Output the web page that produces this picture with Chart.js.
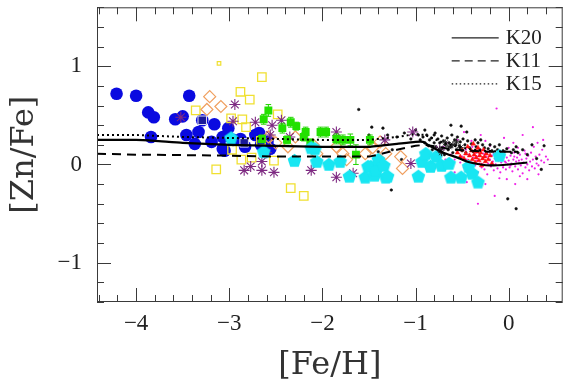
<!DOCTYPE html>
<html><head><meta charset="utf-8">
<script src="https://cdn.jsdelivr.net/npm/chart.js@4.4.1/dist/chart.umd.min.js"></script>
<style>html,body{margin:0;padding:0;background:#fff;}</style>
</head><body>
<canvas id="c" width="570" height="383"></canvas>
<script>
// ---- data ([Fe/H], [Zn/Fe]) ----
const blueCircles = [[-4.21,0.72],[-4.00,0.70],[-3.87,0.53],[-3.81,0.48],[-3.84,0.28],[-3.58,0.46],[-3.50,0.49],[-3.43,0.70],[-3.46,0.30],[-3.37,0.21],[-3.33,0.33],[-3.29,0.45],[-3.19,0.23],[-3.16,0.41],[-3.07,0.28],[-3.05,0.14],[-3.01,0.37],[-2.96,0.25],[-2.88,0.26],[-2.83,0.18],[-2.72,0.30],[-2.68,0.32],[-2.59,0.23],[-2.56,0.16],[-3.07,0.16],[-2.66,0.20]];
const navySquares = [[-3.29,0.45],[-2.84,0.22]];
const cyanPentagons = [[-2.98,0.27],[-2.63,0.13],[-2.30,0.04],[-2.12,0.17],[-2.08,0.16],[-2.06,0.03],[-1.93,0.00],[-1.81,0.03],[-1.71,-0.12],[-1.54,-0.13],[-1.51,-0.02],[-1.48,-0.02],[-1.44,-0.11],[-1.42,-0.06],[-1.40,0.05],[-1.34,-0.01],[-1.32,-0.13],[-1.30,-0.12],[-0.97,-0.12],[-0.93,0.03],[-0.89,0.11],[-0.84,-0.02],[-0.78,0.08],[-0.72,-0.01],[-0.64,0.01],[-0.62,-0.13],[-0.51,-0.13],[-0.43,-0.02],[-0.39,-0.09],[-0.33,-0.18],[-0.10,0.09]];
const greenSquares = [[-2.58,0.55],[-2.63,0.46],[-2.43,0.37],[-2.34,0.43],[-2.28,0.39],[-2.18,0.33],[-2.20,0.28],[-2.02,0.33],[-1.96,0.33],[-1.85,0.26],[-1.78,0.25],[-1.70,0.25],[-1.64,0.10],[-1.49,0.25],[-2.38,0.25],[-2.65,0.26],[-2.13,0.22]];
const greenErrors = [0.06,0.05,0.05,0.05,0.04,0.05,0.04,0.05,0.05,0.05,0.05,0.06,0.10,0.05,0.04,0.04,0.04];
const yellowSquares = [[-2.65,0.89],[-2.88,0.74],[-2.78,0.66],[-3.36,0.55],[-2.98,0.47],[-2.86,0.46],[-2.82,0.38],[-2.48,0.51],[-3.14,-0.05],[-2.97,0.15],[-2.87,0.05],[-2.76,0.07],[-2.52,0.04],[-2.34,-0.24],[-2.20,-0.32],[-2.66,0.24]];
const yellowSmall = [[-3.11,1.03]];
const orangeDiamonds = [[-3.21,0.69],[-3.24,0.56],[-3.09,0.59],[-2.58,0.28],[-2.50,0.22],[-2.37,0.18],[-2.29,0.28],[-2.10,0.20],[-2.06,0.11],[-1.85,0.18],[-1.78,0.11],[-1.74,0.05],[-1.54,0.11],[-1.46,0.17],[-1.38,0.23],[-1.32,0.11],[-1.16,0.08],[-1.14,-0.04]];
const purpleStars = [[-3.52,0.48],[-2.94,0.61],[-2.96,0.44],[-2.72,0.43],[-2.54,0.40],[-2.44,0.45],[-2.56,0.30],[-2.84,-0.06],[-2.77,-0.02],[-2.65,0.03],[-2.65,-0.06],[-2.52,-0.08],[-2.12,-0.06],[-1.85,0.33],[-1.85,-0.13],[-1.67,-0.09],[-1.33,0.25],[-1.03,0.33],[-1.05,0.01],[-0.74,0.15],[-2.35,0.28],[-2.60,0.12]];
const magentaDots = [[-0.62,0.10],[-0.58,0.05],[-0.55,0.12],[-0.52,0.02],[-0.50,0.08],[-0.48,-0.03],[-0.46,0.15],[-0.45,0.05],[-0.43,0.10],[-0.42,-0.06],[-0.40,0.02],[-0.39,0.18],[-0.38,0.07],[-0.36,-0.01],[-0.35,0.12],[-0.34,0.04],[-0.33,-0.08],[-0.32,0.09],[-0.31,0.01],[-0.30,0.15],[-0.29,-0.03],[-0.28,0.06],[-0.27,0.11],[-0.26,-0.05],[-0.25,0.03],[-0.24,0.08],[-0.23,-0.10],[-0.22,0.01],[-0.21,0.13],[-0.20,0.05],[-0.19,-0.02],[-0.18,0.09],[-0.17,0.03],[-0.16,-0.06],[-0.15,0.06],[-0.14,0.00],[-0.13,0.11],[-0.12,-0.04],[-0.11,0.04],[-0.10,0.08],[-0.09,-0.08],[-0.08,0.02],[-0.07,0.06],[-0.06,-0.01],[-0.05,0.10],[-0.04,0.03],[-0.03,-0.05],[-0.02,0.07],[-0.01,0.00],[0.00,0.04],[0.01,-0.03],[0.02,0.09],[0.03,0.01],[0.04,-0.07],[0.05,0.05],[0.06,0.12],[0.07,-0.02],[0.08,0.03],[0.09,0.07],[0.10,-0.05],[0.11,0.01],[0.12,0.10],[0.13,-0.01],[0.14,0.05],[0.15,-0.09],[0.16,0.02],[0.17,0.14],[0.18,-0.03],[0.19,0.06],[0.20,0.00],[0.21,0.09],[0.22,-0.06],[0.23,0.03],[0.24,0.12],[0.25,-0.02],[0.26,0.05],[0.27,0.18],[0.28,-0.04],[0.29,0.08],[0.30,0.01],[0.31,0.22],[0.32,-0.01],[0.33,0.10],[0.35,0.04],[0.36,0.15],[0.38,0.02],[0.40,0.08],[0.42,0.05],[-0.13,0.57],[-0.48,0.33],[-0.30,0.30],[-0.05,0.27],[0.15,0.30],[0.26,0.38],[0.05,0.22],[-0.25,0.24],[-0.55,0.25],[-0.70,0.18],[-0.75,0.12],[-0.68,0.05],[-0.33,-0.40],[-0.15,-0.32],[0.07,-0.20],[-0.02,-0.15],[-0.45,-0.18],[-0.25,-0.20],[0.20,-0.15],[0.32,-0.10],[-0.38,-0.12],[-0.10,-0.14],[0.12,-0.12],[-0.58,-0.08],[-0.65,0.22],[0.00,0.17],[-0.20,0.19],[0.10,0.17],[-0.40,0.24],[0.37,0.25],[-0.28,0.00],[-0.22,0.06],[-0.16,0.11],[-0.12,0.06],[-0.08,0.12],[-0.03,0.02],[0.02,-0.01],[0.06,0.08],[-0.18,0.00],[-0.34,0.08],[-0.26,0.14],[-0.06,-0.03],[0.11,0.04],[0.18,0.11],[-0.44,0.00],[-0.36,0.15]];
const blackDots = [[-1.61,0.56],[-1.47,0.38],[-1.35,0.37],[-1.26,-0.26],[-1.50,0.30],[-1.30,0.30],[-1.20,0.28],[-1.12,0.32],[-1.05,0.26],[-1.00,0.35],[-0.97,0.30],[-0.62,0.40],[-0.51,0.39],[-0.01,-0.35],[0.08,-0.45],[0.38,0.19],[0.25,0.20],[0.30,0.06],[0.15,0.15],[-1.25,0.15],[-1.15,0.05],[-1.40,0.13],[-0.90,0.35],[-0.80,0.30],[-0.45,0.33],[-0.30,0.25],[0.05,0.15],[0.10,0.12],[0.20,0.10],[0.35,-0.05],[-0.20,0.20],[-0.95,0.25],[-0.92,0.28],[-0.90,0.22],[-0.88,0.30],[-0.86,0.19],[-0.85,0.25],[-0.83,0.27],[-0.82,0.15],[-0.80,0.22],[-0.79,0.32],[-0.78,0.18],[-0.76,0.26],[-0.75,0.12],[-0.74,0.22],[-0.72,0.29],[-0.71,0.17],[-0.70,0.24],[-0.69,0.10],[-0.68,0.20],[-0.66,0.27],[-0.65,0.15],[-0.64,0.22],[-0.62,0.18],[-0.61,0.30],[-0.60,0.12],[-0.58,0.25],[-0.57,0.20],[-0.56,0.15],[-0.55,0.28],[-0.53,0.19],[-0.52,0.23],[-0.50,0.14],[-0.49,0.26],[-0.47,0.20],[-0.46,0.12],[-0.44,0.24],[-0.42,0.17],[-0.40,0.21],[-0.38,0.13],[-0.36,0.25],[-0.35,0.18],[-0.33,0.22],[-0.31,0.15],[-0.28,0.20],[-0.26,0.17],[-0.24,0.12],[-0.22,0.16],[-0.18,0.14],[-0.15,0.18],[-0.12,0.15],[-0.10,0.20],[-0.06,0.14],[-0.02,0.16],[0.03,0.12],[0.08,0.18]];
const blackStars = [[-0.74,0.15],[-0.72,0.12],[-0.68,0.22],[-0.64,0.18],[-0.60,0.20],[-0.56,0.23],[-0.52,0.17]];
const redPoints = [[-0.55,0.12],[-0.52,0.08],[-0.50,0.15],[-0.48,0.06],[-0.46,0.11],[-0.44,0.18],[-0.43,0.03],[-0.42,0.09],[-0.40,0.14],[-0.39,0.05],[-0.38,0.21],[-0.37,0.10],[-0.36,0.02],[-0.35,0.07],[-0.34,0.13],[-0.33,0.17],[-0.32,0.04],[-0.31,0.09],[-0.30,0.12],[-0.29,-0.01],[-0.28,0.06],[-0.27,0.15],[-0.26,0.08],[-0.25,0.03],[-0.24,0.11],[-0.22,0.05],[-0.20,0.09],[-0.18,0.01]];
// model curves
const k20 = [[-4.42,0.25],[-4.0,0.25],[-3.8,0.24],[-3.5,0.22],[-3.0,0.20],[-2.5,0.19],[-2.0,0.18],[-1.5,0.18],[-1.4,0.19],[-1.2,0.21],[-1.0,0.23],[-0.92,0.23],[-0.85,0.19],[-0.7,0.12],[-0.55,0.07],[-0.45,0.03],[-0.3,0.0],[-0.2,-0.01],[0.0,0.0],[0.2,0.02]];
const k11 = [[-4.42,0.11],[-4.0,0.10],[-3.0,0.09],[-2.5,0.08],[-2.0,0.08],[-1.5,0.08],[-1.4,0.10],[-1.2,0.15],[-1.0,0.19],[-0.9,0.20],[-0.75,0.18],[-0.6,0.15],[-0.4,0.14],[-0.2,0.13],[0.1,0.13]];
const k15 = [[-4.42,0.30],[-4.0,0.30],[-3.5,0.28],[-3.0,0.27],[-2.5,0.26],[-2.0,0.25],[-1.5,0.25],[-1.2,0.28],[-1.0,0.31],[-0.9,0.30],[-0.7,0.22],[-0.5,0.17],[-0.3,0.14],[0.0,0.13],[0.1,0.13]];
const legendLabels = ['K20','K11','K15'];
const xTickLabels = [-4,-3,-2,-1,0];
const yTickLabels = [-1,0,1];

// ---- helpers ----
const pts = a => a.map(p => ({x:p[0], y:p[1]}));
function pentagon(r, color){
  const s = Math.ceil(2*r+2), c = document.createElement('canvas');
  c.width = s; c.height = s;
  const g = c.getContext('2d');
  g.fillStyle = color; g.beginPath();
  for (let k=0;k<5;k++){ const a=-Math.PI/2+k*2*Math.PI/5; const px=s/2+r*Math.cos(a), py=s/2+r*Math.sin(a)+0.5; k?g.lineTo(px,py):g.moveTo(px,py); }
  g.closePath(); g.fill(); return c;
}
const errPts = [];
greenSquares.forEach((p,i)=>{ const e=greenErrors[i];
  errPts.push({x:p[0],y:p[1]-e},{x:p[0],y:p[1]+e},{x:p[0],y:null},
              {x:p[0]-0.03,y:p[1]+e},{x:p[0]+0.03,y:p[1]+e},{x:p[0],y:null},
              {x:p[0]-0.03,y:p[1]-e},{x:p[0]+0.03,y:p[1]-e},{x:p[0],y:null}); });
const minus = v => (v<0 ? '\u2212'+Math.abs(v) : String(v));

const frame = {
  id:'frame',
  afterDraw(chart){
    const {ctx, chartArea:a, scales:{x,y}} = chart;
    ctx.save();
    ctx.strokeStyle = '#3a3a3a'; ctx.lineWidth = 1;
    ctx.strokeRect(a.left+0.5, a.top+0.5, a.right-a.left-1, a.bottom-a.top-1);
    ctx.beginPath();
    for (let i=-22;i<=2;i++){
      const px = Math.round(x.getPixelForValue(i*0.2))+0.5, L = (i%5===0)?14:7;
      ctx.moveTo(px,a.bottom); ctx.lineTo(px,a.bottom-L);
      ctx.moveTo(px,a.top); ctx.lineTo(px,a.top+L);
    }
    for (let i=-7;i<=8;i++){
      const py = Math.round(y.getPixelForValue(i*0.2))+0.5, L = (i%5===0)?14:7;
      ctx.moveTo(a.left,py); ctx.lineTo(a.left+L,py);
      ctx.moveTo(a.right,py); ctx.lineTo(a.right-L,py);
    }
    ctx.stroke();
    // legend
    const dashes = [[],[8,5],[1.5,2.5]];
    ctx.font = '21px "Liberation Serif"'; ctx.fillStyle = '#222';
    ctx.textBaseline = 'middle'; ctx.textAlign = 'left';
    legendLabels.forEach((lab,k)=>{
      const ly = a.top + 30 + k*23;
      ctx.strokeStyle = '#222'; ctx.lineWidth = 1.2; ctx.setLineDash(dashes[k]);
      ctx.beginPath(); ctx.moveTo(a.right-111, ly+0.5); ctx.lineTo(a.right-64, ly+0.5); ctx.stroke();
      ctx.setLineDash([]);
      ctx.fillText(lab, a.right-57, ly+1);
    });
    ctx.restore();
  }
};

const sc = (data, extra) => Object.assign({data: pts(data), showLine:false}, extra);
new Chart(document.getElementById('c'), {
  type:'scatter',
  data:{ datasets:[
    sc(magentaDots, {label:'mag', pointRadius:1.1, pointBackgroundColor:'#f020e8', pointBorderWidth:0, order:20}),
    sc(blackDots, {label:'blk', pointRadius:1.3, pointBackgroundColor:'#111', pointBorderColor:'#111', pointBorderWidth:0.5, order:19}),
    sc(redPoints, {label:'red', pointStyle:'triangle', pointRadius:2.6, pointBackgroundColor:'#ff1010', pointBorderColor:'#ff1010', pointBorderWidth:0.5, order:18}),
    sc(blueCircles, {label:'blue', pointRadius:6.3, pointBackgroundColor:'#0a0ae0', pointBorderColor:'#0a0ae0', pointBorderWidth:0, order:17}),
    sc(yellowSquares, {label:'yel', pointStyle:'rect', pointRadius:6, pointBackgroundColor:'rgba(0,0,0,0)', pointBorderColor:'#f0e030', pointBorderWidth:1.3, order:16}),
    sc(yellowSmall, {label:'yels', pointStyle:'rect', pointRadius:2.5, pointBackgroundColor:'rgba(0,0,0,0)', pointBorderColor:'#f0e030', pointBorderWidth:1.2, order:16}),
    sc(orangeDiamonds, {label:'ora', pointStyle:'rectRot', pointRadius:6, pointBackgroundColor:'rgba(0,0,0,0)', pointBorderColor:'#f0a060', pointBorderWidth:1.2, order:15}),
    sc(purpleStars, {label:'pur', pointStyle:'star', pointRadius:5.5, pointBorderColor:'#7e2a82', pointBorderWidth:1.1, order:14}),
    {label:'err', data:errPts, showLine:true, spanGaps:false, borderColor:'#22d400', borderWidth:1, pointRadius:0, order:13},
    sc(greenSquares, {label:'grn', pointStyle:'rect', pointRadius:5.6, pointBackgroundColor:'#22e000', pointBorderColor:'#22e000', pointBorderWidth:0, order:12}),
    sc(cyanPentagons, {label:'cyan', pointStyle:pentagon(7.2,'#18e6f2'), order:11}),
    sc(navySquares, {label:'navy', pointStyle:'rect', pointRadius:6, pointBackgroundColor:'#1a1a9a', pointBorderColor:'#dde', pointBorderWidth:1, order:10}),
    sc(blackStars, {label:'blks', pointStyle:'star', pointRadius:3.5, pointBorderColor:'#222', pointBorderWidth:1, order:9}),
    {label:'K15', data:pts(k15), showLine:true, borderColor:'#000', borderWidth:2, borderDash:[2,3], pointRadius:0, tension:0, order:3},
    {label:'K11', data:pts(k11), showLine:true, borderColor:'#000', borderWidth:2, borderDash:[9,6], pointRadius:0, tension:0, order:2},
    {label:'K20', data:pts(k20), showLine:true, borderColor:'#000', borderWidth:2.2, pointRadius:0, tension:0.2, order:1}
  ]},
  options:{
    responsive:false, animation:false, events:[],
    layout:{padding:{left:0, right:6, top:7, bottom:0}},
    plugins:{legend:{display:false}, tooltip:{enabled:false}},
    scales:{
      x:{type:'linear', min:-4.42, max:0.58,
        grid:{display:false, drawTicks:false}, border:{display:false},
        afterBuildTicks:s => { s.ticks = xTickLabels.map(v => ({value:v})); },
        ticks:{autoSkip:false, maxRotation:0, padding:8, color:'#222',
          font:{family:'Liberation Serif', size:23},
          callback:v => minus(Math.round(v))},
        title:{display:true, text:'[Fe/H]', color:'#333', font:{family:'DejaVu Serif', size:32, lineHeight:1}, padding:{top:0,bottom:1}},
        afterFit:s => { s.height = 81; s.paddingLeft = 0; s.paddingRight = 0; }
      },
      y:{type:'linear', min:-1.4, max:1.6,
        grid:{display:false, drawTicks:false}, border:{display:false},
        afterBuildTicks:s => { s.ticks = yTickLabels.map(v => ({value:v})); },
        ticks:{autoSkip:false, padding:15, color:'#222',
          font:{family:'Liberation Serif', size:23},
          callback:v => minus(Math.round(v))},
        title:{display:true, text:'[Zn/Fe]', color:'#333', font:{family:'DejaVu Serif', size:32, lineHeight:1}, padding:{top:9,bottom:0}},
        afterFit:s => { s.width = 97; s.paddingTop = 0; s.paddingBottom = 0; }
      }
    }
  },
  plugins:[frame]
});
</script>
</body></html>
